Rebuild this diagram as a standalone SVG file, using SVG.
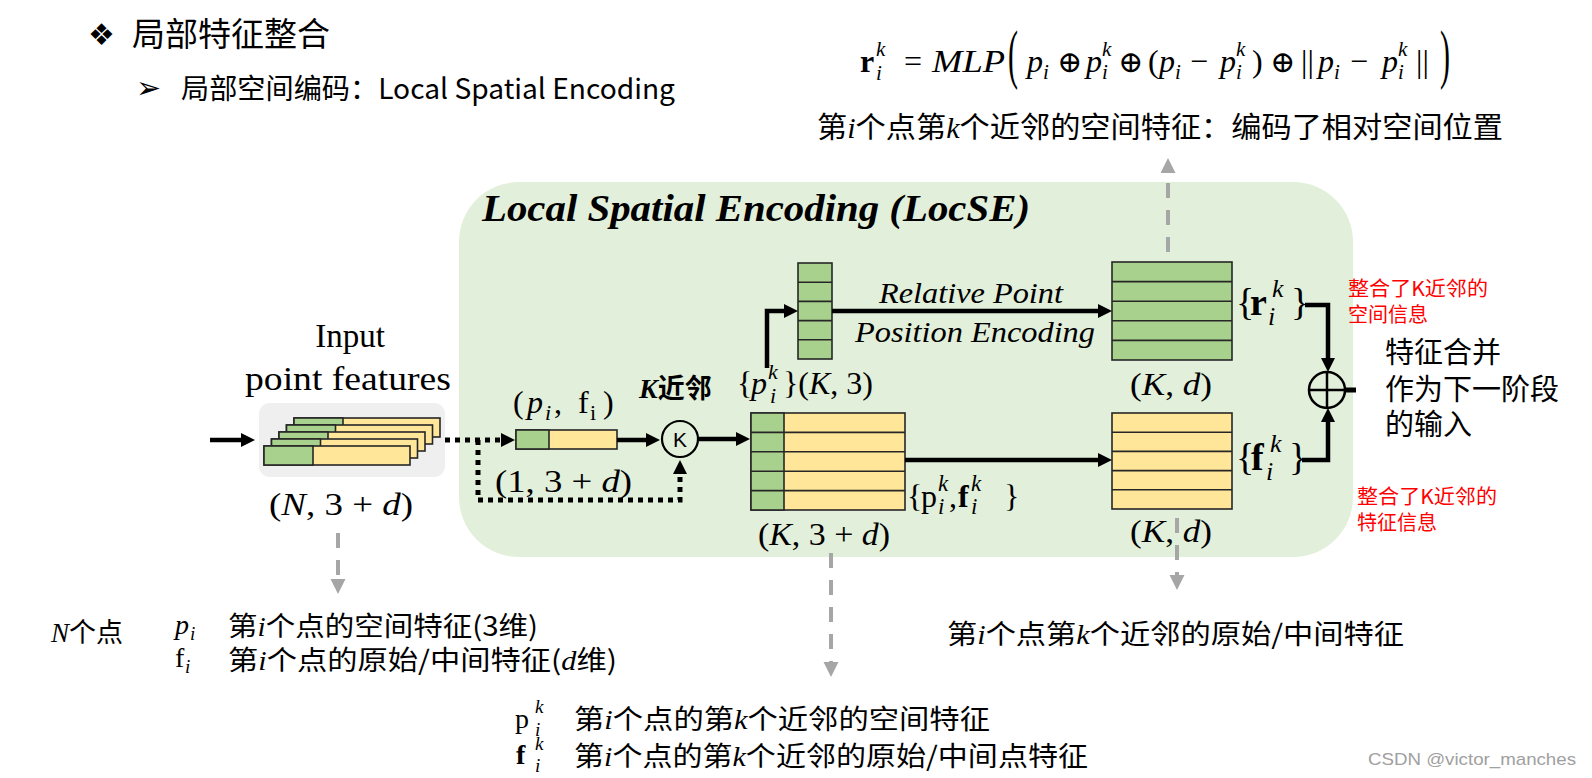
<svg xmlns="http://www.w3.org/2000/svg" width="1592" height="778" viewBox="0 0 1592 778">
<defs>
<style>
.cjk{font-family:"Noto Sans CJK SC","Microsoft YaHei",sans-serif;}
.sf{font-family:"Liberation Serif","Times New Roman",serif;}
.it{font-style:italic}
.bf{font-weight:bold}
.sym{font-family:"DejaVu Serif",serif;}
.g{fill:#a9d18e;stroke:#262626;stroke-width:1.6}
.y{fill:#ffe699;stroke:#262626;stroke-width:1.6}
.rl{stroke:#262626;stroke-width:1.6;fill:none}
.ar{stroke:#000;stroke-width:4.5;fill:none}
.dot{stroke:#000;stroke-width:5;fill:none;stroke-dasharray:5 5}
.gd{stroke:#a6a6a6;stroke-width:4;fill:none;stroke-dasharray:15 12}
.red{fill:#ff0000;font-size:20px}
</style>
<marker id="ah" markerUnits="userSpaceOnUse" markerWidth="16" markerHeight="16" refX="4" refY="7" orient="auto"><path d="M0,0 L14,7 L0,14 z" fill="#000"/></marker>
<marker id="gh" markerUnits="userSpaceOnUse" markerWidth="16" markerHeight="16" refX="0" refY="7.5" orient="auto"><path d="M0,0 L15,7.5 L0,15 z" fill="#a6a6a6"/></marker>
</defs>
<rect x="0" y="0" width="1592" height="778" fill="#fff"/>

<g id="header">
<text x="88" y="45" font-family="DejaVu Sans" font-size="30">❖</text>
<text class="cjk" x="132" y="46" font-size="33">局部特征整合</text>
<text x="136" y="98" font-family="DejaVu Sans" font-size="30" font-weight="bold">➢</text>
<text class="cjk" x="181" y="99" font-size="28" textLength="494" lengthAdjust="spacingAndGlyphs">局部空间编码：Local Spatial Encoding</text>
</g>

<g id="formula" class="sf">
<text x="860" y="72" font-size="32" font-weight="bold">r</text>
<text x="876" y="56" font-size="21" class="it">k</text>
<text x="876" y="80" font-size="21" class="it">i</text>
<text x="904" y="72" font-size="32">=</text>
<text x="932" y="72" font-size="32" class="it" textLength="73" lengthAdjust="spacingAndGlyphs">MLP</text>
<text transform="translate(1008,76) scale(1.0,2.2)" font-size="30">(</text>
<text x="1027" y="72" font-size="32" class="it">p</text>
<text x="1043" y="79" font-size="21" class="it">i</text>
<text x="1057" y="72" font-size="30" class="sym">⊕</text>
<text x="1086" y="72" font-size="32" class="it">p</text>
<text x="1102" y="56" font-size="21" class="it">k</text>
<text x="1102" y="79" font-size="21" class="it">i</text>
<text x="1118" y="72" font-size="30" class="sym">⊕</text>
<text x="1148" y="72" font-size="32">(</text>
<text x="1159" y="72" font-size="32" class="it">p</text>
<text x="1175" y="79" font-size="21" class="it">i</text>
<text x="1190" y="72" font-size="32">−</text>
<text x="1220" y="72" font-size="32" class="it">p</text>
<text x="1236" y="56" font-size="21" class="it">k</text>
<text x="1236" y="79" font-size="21" class="it">i</text>
<text x="1252" y="72" font-size="32">)</text>
<text x="1270" y="72" font-size="30" class="sym">⊕</text>
<text x="1301" y="72" font-size="32">||</text>
<text x="1318" y="72" font-size="32" class="it">p</text>
<text x="1334" y="79" font-size="21" class="it">i</text>
<text x="1350" y="72" font-size="32">−</text>
<text x="1382" y="72" font-size="32" class="it">p</text>
<text x="1398" y="56" font-size="21" class="it">k</text>
<text x="1398" y="79" font-size="21" class="it">i</text>
<text x="1416" y="72" font-size="32">||</text>
<text transform="translate(1440,76) scale(1.0,2.2)" font-size="30">)</text>
</g>

<g id="formula-desc">
<text class="cjk" x="817" y="138" font-size="29" textLength="686" lengthAdjust="spacingAndGlyphs">第<tspan class="sf it">i</tspan>个点第<tspan class="sf it">k</tspan>个近邻的空间特征：编码了相对空间位置</text>
</g>

<g id="locse-panel">
<rect x="459" y="182" width="894" height="375" rx="60" ry="60" fill="#e2efda"/>
<text class="sf it bf" x="482" y="221" font-size="38" textLength="548" lengthAdjust="spacingAndGlyphs">Local Spatial Encoding (LocSE)</text>
</g>

<g id="input-features">
<text class="sf" x="350" y="347" font-size="33" text-anchor="middle">Input</text>
<text class="sf" x="348" y="390" font-size="33" text-anchor="middle" textLength="206" lengthAdjust="spacingAndGlyphs">point features</text>
<rect x="259" y="403" width="186" height="74" rx="11" fill="#efefef"/>
<rect class="y" x="294" y="418" width="146" height="19"/><rect class="g" x="294" y="418" width="49" height="19"/>
<rect class="y" x="286.5" y="425" width="146" height="19"/><rect class="g" x="286.5" y="425" width="49" height="19"/>
<rect class="y" x="279" y="432" width="146" height="19"/><rect class="g" x="279" y="432" width="49" height="19"/>
<rect class="y" x="271.5" y="439" width="146" height="19"/><rect class="g" x="271.5" y="439" width="49" height="19"/>
<rect class="y" x="264" y="446" width="146" height="19"/><rect class="g" x="264" y="446" width="49" height="19"/>
<text class="sf" x="269" y="515" font-size="32" textLength="144" lengthAdjust="spacingAndGlyphs">(<tspan class="it">N</tspan>, 3 + <tspan class="it">d</tspan>)</text>
</g>

<g id="point-i">
<rect class="y" x="516" y="430" width="101" height="19"/><rect class="g" x="516" y="430" width="33" height="19"/>
<text class="sf" y="413" font-size="32"><tspan x="513">(</tspan><tspan x="527" class="it">p</tspan><tspan x="545" y="420" font-size="22" class="it">i</tspan><tspan x="554" y="413">,</tspan><tspan x="578">f</tspan><tspan x="590" y="420" font-size="22">i</tspan><tspan x="603" y="413">)</tspan></text>
<text class="sf" x="495" y="492" font-size="32" textLength="137" lengthAdjust="spacingAndGlyphs">(1, 3 + <tspan class="it">d</tspan>)</text>
</g>

<g id="knn">
<circle cx="680" cy="439" r="18" fill="none" stroke="#000" stroke-width="2.2"/>
<text x="680" y="447" font-family="Liberation Sans" font-size="21" text-anchor="middle">K</text>
<text x="639" y="398" font-size="28"><tspan class="sf it bf">K</tspan><tspan class="cjk bf" font-size="27">近邻</tspan></text>
</g>

<g id="neighbors">
<rect class="y" x="751" y="413" width="154" height="97"/>
<rect class="g" x="751" y="413" width="33" height="97"/>
<path class="rl" d="M751,432.4 H905 M751,451.8 H905 M751,471.2 H905 M751,490.6 H905"/>
<text class="sf" x="758" y="545" font-size="32" textLength="132" lengthAdjust="spacingAndGlyphs">(<tspan class="it">K</tspan>, 3 + <tspan class="it">d</tspan>)</text>
<text class="sf" font-size="32"><tspan x="907" y="507">{</tspan><tspan x="921">p</tspan><tspan x="938" y="491" font-size="23" class="it">k</tspan><tspan x="938" y="514" font-size="23" class="it">i</tspan><tspan x="949" y="507">,</tspan><tspan x="958" font-weight="bold">f</tspan><tspan x="971" y="491" font-size="23" class="it">k</tspan><tspan x="971" y="514" font-size="23" class="it">i</tspan><tspan x="1004" y="507">}</tspan></text>
</g>

<g id="neighbor-positions">
<rect class="g" x="798" y="263" width="34" height="96"/>
<path class="rl" d="M798,282.2 H832 M798,301.4 H832 M798,320.6 H832 M798,339.8 H832"/>
<text class="sf" font-size="32"><tspan x="737" y="394">{</tspan><tspan x="751" class="it">p</tspan><tspan x="768" y="379" font-size="22" class="it">k</tspan><tspan x="770" y="403" font-size="22" class="it">i</tspan><tspan x="783" y="394">}(</tspan><tspan class="it">K</tspan><tspan>, 3)</tspan></text>
<text class="sf it" x="879" y="303" font-size="29" textLength="184" lengthAdjust="spacingAndGlyphs">Relative Point</text>
<text class="sf it" x="855" y="342" font-size="29" textLength="240" lengthAdjust="spacingAndGlyphs">Position Encoding</text>
</g>

<g id="relative-encoding">
<rect class="g" x="1112" y="262" width="120" height="98"/>
<path class="rl" d="M1112,281.6 H1232 M1112,301.2 H1232 M1112,320.8 H1232 M1112,340.4 H1232"/>
<text class="sf" x="1130" y="395" font-size="32" textLength="82" lengthAdjust="spacingAndGlyphs">(<tspan class="it">K</tspan>, <tspan class="it">d</tspan>)</text>
<text class="sf" font-size="38"><tspan x="1236" y="315">{</tspan><tspan x="1250" font-weight="bold">r</tspan><tspan x="1272" y="297" font-size="26" class="it">k</tspan><tspan x="1268" y="325" font-size="26" class="it">i</tspan><tspan x="1291" y="315">}</tspan></text>
</g>

<g id="feature-block">
<rect class="y" x="1112" y="413" width="120" height="96"/>
<path class="rl" d="M1112,432.2 H1232 M1112,451.4 H1232 M1112,470.6 H1232 M1112,489.8 H1232"/>
<text class="sf" x="1130" y="542" font-size="32" textLength="82" lengthAdjust="spacingAndGlyphs">(<tspan class="it">K</tspan>, <tspan class="it">d</tspan>)</text>
<text class="sf" font-size="38"><tspan x="1236" y="470">{</tspan><tspan x="1251" font-weight="bold">f</tspan><tspan x="1270" y="452" font-size="26" class="it">k</tspan><tspan x="1266" y="480" font-size="26" class="it">i</tspan><tspan x="1289" y="470">}</tspan></text>
</g>

<g id="concat">
<circle cx="1327" cy="390" r="18" fill="none" stroke="#000" stroke-width="2.5"/>
<path d="M1309,390 H1345 M1327,372 V408" stroke="#000" stroke-width="2.5"/>
</g>

<g id="notes">
<text class="cjk red" x="1348" y="296" textLength="140" lengthAdjust="spacingAndGlyphs">整合了K近邻的</text>
<text class="cjk red" x="1348" y="322">空间信息</text>
<text class="cjk red" x="1357" y="504" textLength="140" lengthAdjust="spacingAndGlyphs">整合了K近邻的</text>
<text class="cjk red" x="1357" y="530">特征信息</text>
<text class="cjk" x="1385" y="363" font-size="29">特征合并</text>
<text class="cjk" x="1385" y="400" font-size="29">作为下一阶段</text>
<text class="cjk" x="1385" y="435" font-size="29">的输入</text>
</g>

<g id="legend-input">
<text x="51" y="642" font-size="27"><tspan class="sf it">N</tspan><tspan class="cjk">个点</tspan></text>
<text class="sf it" x="175" y="634" font-size="28">p</text>
<text class="sf it" x="190" y="640" font-size="19">i</text>
<text class="cjk" x="228" y="636" font-size="27" textLength="310" lengthAdjust="spacingAndGlyphs">第<tspan class="sf it">i</tspan>个点的空间特征(3维)</text>
<text class="sf" x="175" y="667" font-size="28">f</text>
<text class="sf it" x="185" y="673" font-size="19">i</text>
<text class="cjk" x="228" y="670" font-size="27" textLength="389" lengthAdjust="spacingAndGlyphs">第<tspan class="sf it">i</tspan>个点的原始/中间特征(<tspan class="sf it">d</tspan>维)</text>
</g>

<g id="legend-neighbors">
<text class="sf" x="515" y="728" font-size="28">p</text>
<text class="sf it" x="535" y="713" font-size="19">k</text>
<text class="sf it" x="535" y="736" font-size="19">i</text>
<text class="cjk" x="574" y="729" font-size="27" textLength="416" lengthAdjust="spacingAndGlyphs">第<tspan class="sf it">i</tspan>个点的第<tspan class="sf it">k</tspan>个近邻的空间特征</text>
<text class="sf" x="516" y="764" font-size="28" font-weight="bold">f</text>
<text class="sf it" x="535" y="750" font-size="19">k</text>
<text class="sf it" x="535" y="772" font-size="19">i</text>
<text class="cjk" x="574" y="766" font-size="27" textLength="514" lengthAdjust="spacingAndGlyphs">第<tspan class="sf it">i</tspan>个点的第<tspan class="sf it">k</tspan>个近邻的原始/中间点特征</text>
<text class="cjk" x="947" y="644" font-size="27" textLength="457" lengthAdjust="spacingAndGlyphs">第<tspan class="sf it">i</tspan>个点第<tspan class="sf it">k</tspan>个近邻的原始/中间特征</text>
</g>

<g id="watermark">
<text x="1368" y="765" font-family="Liberation Sans" font-size="17" fill="#a0a0a0" textLength="208" lengthAdjust="spacingAndGlyphs">CSDN @victor_manches</text>
</g>

<g id="connectors">
<path class="ar" d="M210,440 H245" marker-end="url(#ah)"/>
<path class="dot" d="M445,440 H505" marker-end="url(#ah)"/>
<path class="dot" d="M478,440 V500 H680 V470" marker-end="url(#ah)"/>
<path class="ar" d="M617,440 H650" marker-end="url(#ah)"/>
<path class="ar" d="M698,439 H740" marker-end="url(#ah)"/>
<path class="ar" d="M767,368 V311 H788" marker-end="url(#ah)"/>
<path class="ar" d="M832,311 H1102" marker-end="url(#ah)"/>
<path class="ar" d="M905,460 H1102" marker-end="url(#ah)"/>
<path class="ar" d="M1305,305 H1328 V362" marker-end="url(#ah)"/>
<path class="ar" d="M1302,460 H1328 V418" marker-end="url(#ah)"/>
<path d="M1345,390 H1356" stroke="#000" stroke-width="5"/>
<path class="gd" d="M1168,252 V173" marker-end="url(#gh)"/>
<path class="gd" d="M338,533 V579" marker-end="url(#gh)"/>
<path class="gd" d="M831,553 V662" marker-end="url(#gh)"/>
<path class="gd" d="M1177,518 V575" marker-end="url(#gh)"/>
</g>
</svg>
